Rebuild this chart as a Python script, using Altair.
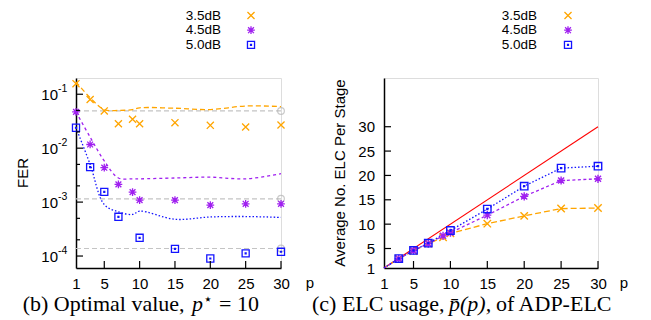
import altair as alt
import pandas as pd

# ---------------- data ----------------
series = ["3.5dB", "4.5dB", "5.0dB"]
colors = ["#ffa500", "#a020f0", "#1414ff"]

p_all = [1, 3, 5, 7, 9, 10, 15, 20, 25, 30]
p_50 = [1, 3, 5, 7, 10, 15, 20, 25, 30]

# (b) FER, simulated points
fer35_pts = [0.157, 0.080, 0.049, 0.0284, 0.0343, 0.0284, 0.0297, 0.0265, 0.0247, 0.0269]
fer45_pts = [0.047, 0.0117, 0.00434, 0.00213, 0.00153, 0.00109, 0.00109, 0.00088, 0.00093, 0.00093]
fer50_pts = [0.0239, 0.00446, 0.00155, 0.000534, 0.000218, 0.000136, 0.000090, 0.000112, 0.000120]
# (b) FER, curves
fer35_line = [0.17, 0.086, 0.052, 0.050, 0.052, 0.056, 0.055, 0.052, 0.0605, 0.059]
fer45_line = [0.047, 0.016, 0.0058, 0.0028, 0.0027, 0.0027, 0.0028, 0.0029, 0.0027, 0.00336]
fer50_line = [0.0239, 0.0050, 0.0009, 0.00066, 0.00059, 0.00068, 0.00048, 0.00053, 0.00054, 0.00052]
# reference levels
ref_p = [1, 30]
ref_levels = [0.049, 0.00115, 0.000138]

# (c) ELC usage
elc35 = [1, 2.9, 4.5, 6.0, 7.3, 8.1, 10.1, 11.7, 13.2, 13.3]
elc45 = [1, 2.9, 4.6, 6.0, 7.6, 8.25, 11.85, 15.7, 18.95, 19.3]
elc50 = [1, 2.94, 4.6, 6.1, 8.7, 13.1, 17.8, 21.5, 21.9]
identity_p = [1, 30]

# ticks / labels
x_ticks = [1, 5, 10, 15, 20, 25, 30]
x_inner = [5, 10, 15, 20, 25, 30]
fer_major = [1e-1, 1e-2, 1e-3, 1e-4]
fer_major_base = ["10", "10", "10", "10"]
fer_major_exp = ["-1", "-2", "-3", "-4"]
fer_minor = [5e-2, 2e-2, 5e-3, 2e-3, 5e-4, 2e-4]
elc_ticks = [1, 5, 10, 15, 20, 25, 30]
elc_inner = [5, 10, 15, 20, 25, 30]

# ---------------- style ----------------
W1, W2, H = 205, 214, 190
SANS = "Liberation Sans"
SERIF = "Liberation Serif"
FS = 15
LFS = 13.5
shapes = [
    "M-1,-1L1,1M-1,1L1,-1",
    "M-1,0L1,0M0,-1L0,1M-0.75,-0.75L0.75,0.75M-0.75,0.75L0.75,-0.75",
    "M-1,-1L1,-1L1,1L-1,1Z M-0.13,-0.13L0.13,-0.13L0.13,0.13L-0.13,0.13Z",
]
msizes = [50, 60, 50]
dash_b = [[5, 3], [3, 3], [1.5, 2]]
dash_c = [[6, 3], [3, 2.5], [1.5, 2]]
legend_y = [-62.5, -47.8, -33.1]

dummy = pd.DataFrame({"d": [0]})


def xaxis():
    return alt.Axis(values=x_ticks, ticks=False, tickSize=0, grid=False,
                    labelFont=SANS, labelFontSize=FS, labelColor="black",
                    labelPadding=15, labelBaseline="middle", labelFlush=False,
                    labelOverlap=False, domainColor="black", domainWidth=1.5,
                    title=None)


def text_at(txt, x, y, **kw):
    return alt.Chart(dummy).mark_text(text=txt, **kw).encode(
        x=alt.value(x), y=alt.value(y))


# ---------------- panel (b) ----------------
xs1 = alt.Scale(domain=[1, 30], nice=False, zero=False)
ys1 = alt.Scale(type="log", domain=[6e-5, 0.2], nice=False)
yax1 = alt.Axis(labels=False, ticks=False, tickSize=0, grid=False,
                domainColor="black", domainWidth=1.5, title=None)


def X1(f="p"):
    return alt.X(f + ":Q", scale=xs1, axis=xaxis())


def Y1(f="v"):
    return alt.Y(f + ":Q", scale=ys1, axis=yax1)


layers_b = []
# anchor for the layout origin
layers_b.append(alt.Chart(dummy).mark_rule(opacity=0, strokeWidth=0.01).encode(
    x=alt.value(-75), x2=alt.value(-75), y=alt.value(-77), y2=alt.value(-77)))

ref_df = pd.DataFrame({
    "p": ref_p * len(ref_levels),
    "v": [v for v in ref_levels for _ in ref_p],
    "k": [i for i in range(len(ref_levels)) for _ in ref_p],
})
layers_b.append(alt.Chart(ref_df).mark_line(color="#c4c4c4", strokeWidth=1.2, strokeDash=[5, 3]).encode(
    x=X1(), y=Y1(), detail="k:N"))
layers_b.append(alt.Chart(pd.DataFrame({"p": [30] * 3, "v": ref_levels})).mark_point(
    shape="circle", filled=False, color="#b4b4b4", size=45, strokeWidth=1.2).encode(x=X1(), y=Y1()))

line_sets = [(p_all, fer35_line), (p_all, fer45_line), (p_all, fer50_line)]
pt_sets = [(p_all, fer35_pts), (p_all, fer45_pts), (p_50, fer50_pts)]
for i in range(3):
    lp, lv = line_sets[i]
    layers_b.append(alt.Chart(pd.DataFrame({"p": lp, "v": lv})).mark_line(
        color=colors[i], strokeWidth=1.3, strokeDash=dash_b[i], interpolate="catmull-rom").encode(
        x=X1(), y=Y1()))
for i in range(3):
    pp, pv = pt_sets[i]
    layers_b.append(alt.Chart(pd.DataFrame({"p": pp, "v": pv})).mark_point(
        shape=shapes[i], filled=False, color=colors[i], size=msizes[i], strokeWidth=1.3, opacity=1).encode(
        x=X1(), y=Y1()))

# inner ticks
layers_b.append(alt.Chart(pd.DataFrame({"v": fer_major})).mark_rule(color="black", strokeWidth=1.2).encode(
    x=alt.value(0), x2=alt.value(7), y=Y1()))
layers_b.append(alt.Chart(pd.DataFrame({"v": fer_minor})).mark_rule(color="black", strokeWidth=1.2).encode(
    x=alt.value(0), x2=alt.value(4), y=Y1()))
layers_b.append(alt.Chart(pd.DataFrame({"p": x_inner})).mark_rule(color="black", strokeWidth=1.2).encode(
    x=X1(), y=alt.value(H), y2=alt.value(H - 7)))

# y labels 10^-n
ylab = pd.DataFrame({"v": fer_major, "b": fer_major_base, "e": fer_major_exp})
layers_b.append(alt.Chart(ylab).mark_text(align="right", baseline="middle", font=SANS, fontSize=FS,
                                          color="black", dy=1).encode(
    x=alt.value(-18), y=Y1(), text="b:N"))
layers_b.append(alt.Chart(ylab).mark_text(align="left", baseline="middle", font=SANS, fontSize=10.5,
                                          color="black", dy=-5).encode(
    x=alt.value(-18), y=Y1(), text="e:N"))

layers_b.append(text_at("FER", -53, H / 2, angle=270, align="center", baseline="middle",
                        font=SANS, fontSize=FS))
layers_b.append(text_at("p", 234, H + 15, align="center", baseline="middle", font=SANS, fontSize=FS))

for i in range(3):
    layers_b.append(text_at(series[i], 145, legend_y[i], align="right", baseline="middle",
                            font=SANS, fontSize=LFS))
    layers_b.append(alt.Chart(dummy).mark_point(shape=shapes[i], filled=False, color=colors[i],
                                                size=msizes[i], strokeWidth=1.3, opacity=1).encode(
        x=alt.value(175), y=alt.value(legend_y[i])))

CB = 233
layers_b.append(text_at("(b) Optimal value,", -53.3, CB, align="left", baseline="alphabetic",
                        font=SERIF, fontSize=22))
layers_b.append(text_at("p", 116, CB, align="left", baseline="alphabetic",
                        font=SERIF, fontSize=22, fontStyle="italic"))
layers_b.append(text_at("\u22c6", 132, 221, align="center", baseline="middle",
                        font="DejaVu Sans", fontSize=15))
layers_b.append(text_at("= 10", 143, CB, align="left", baseline="alphabetic",
                        font=SERIF, fontSize=22))

panel_b = alt.layer(*layers_b).properties(width=W1, height=H)

# ---------------- panel (c) ----------------
xs2 = alt.Scale(domain=[1, 30], nice=False, zero=False)
ys2 = alt.Scale(domain=[1, 40], nice=False, zero=False)
yax2 = alt.Axis(values=elc_ticks, ticks=False, tickSize=0, grid=False,
                labelFont=SANS, labelFontSize=FS, labelColor="black", labelPadding=9.5,
                labelBaseline="middle", labelFlush=False, labelOverlap=False,
                domainColor="black", domainWidth=1.5, title=None)


def X2(f="p"):
    return alt.X(f + ":Q", scale=xs2, axis=xaxis())


def Y2(f="v"):
    return alt.Y(f + ":Q", scale=ys2, axis=yax2)


layers_c = []
layers_c.append(alt.Chart(pd.DataFrame({"p": identity_p, "v": identity_p})).mark_line(
    color="#ff0000", strokeWidth=1.1).encode(x=X2(), y=Y2()))

elc_sets = [(p_all, elc35), (p_all, elc45), (p_50, elc50)]
for i in range(3):
    ep, ev = elc_sets[i]
    layers_c.append(alt.Chart(pd.DataFrame({"p": ep, "v": ev})).mark_line(
        color=colors[i], strokeWidth=1.3, strokeDash=dash_c[i]).encode(x=X2(), y=Y2()))
for i in range(3):
    ep, ev = elc_sets[i]
    df = pd.DataFrame({"p": ep, "v": ev})
    df = df[df["p"] > 1]
    layers_c.append(alt.Chart(df).mark_point(
        shape=shapes[i], filled=False, color=colors[i], size=msizes[i] + 5, strokeWidth=1.4, opacity=1).encode(
        x=X2(), y=Y2()))

layers_c.append(alt.Chart(pd.DataFrame({"v": elc_inner})).mark_rule(color="black", strokeWidth=1.2).encode(
    x=alt.value(0), x2=alt.value(7), y=Y2()))
layers_c.append(alt.Chart(pd.DataFrame({"p": elc_inner})).mark_rule(color="black", strokeWidth=1.2).encode(
    x=X2(), y=alt.value(H), y2=alt.value(H - 7)))

layers_c.append(text_at("Average No. ELC Per Stage", -44, H / 2, angle=270, align="center",
                        baseline="middle", font=SANS, fontSize=FS))
layers_c.append(text_at("p", 240, H + 15, align="center", baseline="middle", font=SANS, fontSize=FS))

for i in range(3):
    layers_c.append(text_at(series[i], 153, legend_y[i], align="right", baseline="middle",
                            font=SANS, fontSize=LFS))
    layers_c.append(alt.Chart(dummy).mark_point(shape=shapes[i], filled=False, color=colors[i],
                                                size=msizes[i], strokeWidth=1.3, opacity=1).encode(
        x=alt.value(184), y=alt.value(legend_y[i])))

layers_c.append(text_at("(c) ELC usage,", -72, CB, align="left", baseline="alphabetic",
                        font=SERIF, fontSize=22))
layers_c.append(text_at("p\u0304(p),", 65, CB, align="left", baseline="alphabetic",
                        font=SERIF, fontSize=22, fontStyle="italic"))
layers_c.append(text_at("of ADP-ELC", 112, CB, align="left", baseline="alphabetic",
                        font=SERIF, fontSize=22))

panel_c = alt.layer(*layers_c).properties(width=W2, height=H)

chart = alt.hconcat(panel_b, panel_c, spacing=103, bounds="flush", padding=0).configure_view(
    stroke="transparent").configure(background="white")

chart.save("out.html", embed_options={"renderer": "svg", "actions": False})
